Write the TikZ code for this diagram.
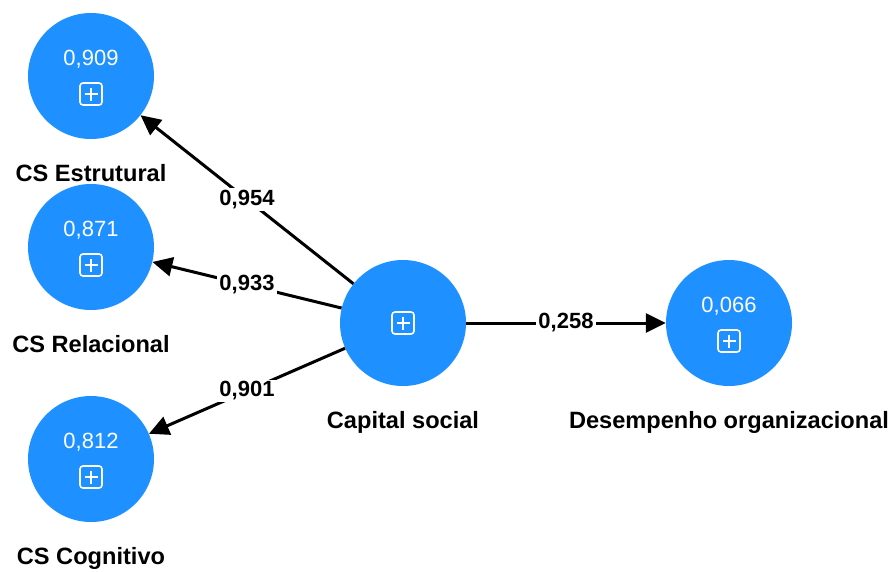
\documentclass[tikz,border=0pt]{standalone}
\usepackage{fontspec}
\setmainfont{Liberation Sans}
\usetikzlibrary{arrows.meta}
\definecolor{lvblue}{RGB}{30,144,255}
\begin{document}
\begin{tikzpicture}[x=1pt,y=-1pt,
  lv/.style={circle, fill=lvblue, minimum size=126pt, inner sep=0pt},
  lvval/.style={anchor=base, text=white, font=\fontsize{22}{25}\selectfont, inner sep=0pt},
  lvname/.style={anchor=base, font=\fontsize{23.6}{27}\selectfont\bfseries, inner sep=0pt},
  path/.style={line width=3pt, -{Triangle[length=20pt,width=19pt]}},
  coef/.style={fill=white, font=\fontsize{22}{25}\selectfont\bfseries, inner sep=2pt},
  plusicon/.pic={
    \draw[white, line width=1.6pt, rounded corners=3pt] (-11,-11) rectangle (11,11);
    \draw[white, line width=1.6pt] (-6.5,0) -- (6.5,0) (0,-6.5) -- (0,6.5);
  }]
\useasboundingbox (0,0) rectangle (893,571);

% latent variables
\node[lv] (est) at (91,76) {};
\node[lv] (rel) at (91,247) {};
\node[lv] (cog) at (91,459) {};
\node[lv] (cap) at (403,323) {};
\node[lv] (des) at (729,323) {};

% R-squared values
\node[lvval] (estv) at ([yshift=11pt]est.center) {0,909};
\node[lvval] (relv) at ([yshift=11pt]rel.center) {0,871};
\node[lvval] (cogv) at ([yshift=11pt]cog.center) {0,812};
\node[lvval] (desv) at ([yshift=11pt]des.center) {0,066};

% expand icons
\pic at ([yshift=-18pt]est.center) {plusicon};
\pic at ([yshift=-18pt]rel.center) {plusicon};
\pic at ([yshift=-18pt]cog.center) {plusicon};
\pic at (cap.center) {plusicon};
\pic at ([yshift=-18pt]des.center) {plusicon};

% names
\node[lvname] (estn) at ([yshift=-105.5pt]est.center) {CS Estrutural};
\node[lvname] (reln) at ([yshift=-105.5pt]rel.center) {CS Relacional};
\node[lvname] (cogn) at ([yshift=-105.5pt]cog.center) {CS Cognitivo};
\node[lvname] (capn) at ([yshift=-105.5pt]cap.center) {Capital social};
\node[lvname] (desn) at ([yshift=-105.5pt]des.center) {Desempenho organizacional};

% path coefficients
\draw[path] (cap) -- node[coef] {0,954} (est);
\draw[path] (cap) -- node[coef] {0,933} (rel);
\draw[path] (cap) -- node[coef] {0,901} (cog);
\draw[path] (cap) -- node[coef] {0,258} (des);
\end{tikzpicture}
\end{document}
